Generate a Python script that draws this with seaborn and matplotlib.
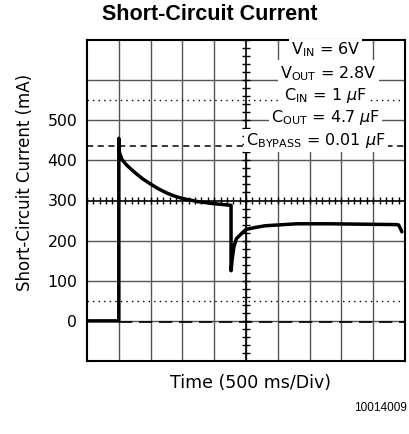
import matplotlib
matplotlib.use("Agg")
import matplotlib.pyplot as plt
import seaborn as sns
import pandas as pd
import numpy as np

# ---- data (time in divisions of 500 ms, current in mA) ----
time_div = [0.0, 1.0, 1.0, 1.02, 1.1, 1.25, 1.5, 1.75, 2.0, 2.25, 2.5, 2.75,
            3.0, 3.5, 4.0, 4.53, 4.53, 4.56, 4.62, 4.7, 4.85, 5.0, 5.3,
            5.6, 6.0, 6.6, 7.6, 8.6, 9.7, 9.8, 9.87, 9.9]
current_ma = [0, 0, 455, 420, 402, 388, 370, 354, 341, 329, 319, 311,
              305, 297, 292, 288, 125, 150, 185, 205, 217, 228, 233,
              237, 239, 242, 242, 241, 240, 239, 228, 222]

yticks = [0, 100, 200, 300, 400, 500]
limit_level = 437      # dashed reference line
dotted_levels = [550, 50]
conditions = [r"V$_{\rm IN}$ = 6V", r"V$_{\rm OUT}$ = 2.8V",
              r"C$_{\rm IN}$ = 1 $\mu$F", r"C$_{\rm OUT}$ = 4.7 $\mu$F",
              r"C$_{\rm BYPASS}$ = 0.01 $\mu$F"]
cond_x = [7.5, 7.6, 7.5, 7.5, 7.2]
cond_y = [675, 617, 562, 507, 450]

sns.set_style("white")
plt.rcParams["font.family"] = ["DejaVu Sans"]
plt.rcParams["text.color"] = "black"
plt.rcParams["ytick.color"] = "black"

fig = plt.figure(figsize=(4.09, 4.34), dpi=100)
ax = fig.add_axes([87/409, (434-361)/434, 318/409, 321/434])

df = pd.DataFrame({"t": time_div, "i": current_ma})

gc = "#555555"
# grid
for x in range(1, 10):
    if x <= 4:
        ax.axvline(x, color=gc, lw=1.0, zorder=1)
    else:
        ax.plot([x, x], [-100, 448], color=gc, lw=1.0, zorder=1)
for x in (6, 9):
    ax.plot([x, x], [652, 700], color=gc, lw=1.0, zorder=1)
for y in range(-100, 700, 100):
    if y != 300:
        ax.axhline(y, color=gc, lw=1.0, zorder=1)
# center axes
ax.axhline(300, color="black", lw=1.2, zorder=2)
ax.axvline(5, color="black", lw=1.2, zorder=2)
tx = np.arange(0, 10.01, 0.2)
ax.vlines(tx, 291, 309, color="black", lw=1.0, zorder=2)
ty = np.arange(-100, 700.1, 20)
ax.hlines(ty, 4.87, 5.13, color="black", lw=1.0, zorder=2)

for lv in dotted_levels:
    ax.axhline(lv, color="black", lw=1.0, ls=(0, (1, 3)), zorder=2)
ax.axhline(limit_level, color="black", lw=1.1, ls=(0, (4, 3)), zorder=2)
ax.plot([1, 10], [-3, -3], color="black", lw=1.2, ls=(0, (8, 4)), zorder=2)

sns.lineplot(data=df, x="t", y="i", sort=False, estimator=None, color="black",
             lw=2.5, ax=ax, zorder=5)

for txt, xx, yy in zip(conditions, cond_x, cond_y):
    ax.text(xx, yy, txt, ha="center", va="center", fontsize=11.5, zorder=6,
            bbox=dict(facecolor="white", edgecolor="none", pad=1.5))

ax.set_xlim(0, 10)
ax.set_ylim(-100, 700)
ax.set_xticks([])
ax.set_yticks(yticks)
ax.set_yticklabels([str(v) for v in yticks], fontsize=11.3)
ax.tick_params(axis="y", length=0, pad=7)
ax.set_xlabel("")
ax.set_ylabel("")
for s in ax.spines.values():
    s.set_color("black")
    s.set_linewidth(1.5)

fig.text(250/409, 1 - 383/434, "Time (500 ms/Div)", ha="center", va="center",
         fontsize=12.5)
fig.text(25/409, 1 - 182/434, "Short-Circuit Current (mA)", ha="center",
         va="center", rotation=90, fontsize=12)
fig.text(210/409, 1 - 15/434, "Short-Circuit Current", ha="center", va="center",
         fontsize=15.5, fontweight="bold", family="Liberation Sans")
fig.text(407/409, 1 - 408/434, "10014009", ha="right", va="center",
         fontsize=8.5, family="Liberation Sans")

fig.savefig("out.png", dpi=100)
